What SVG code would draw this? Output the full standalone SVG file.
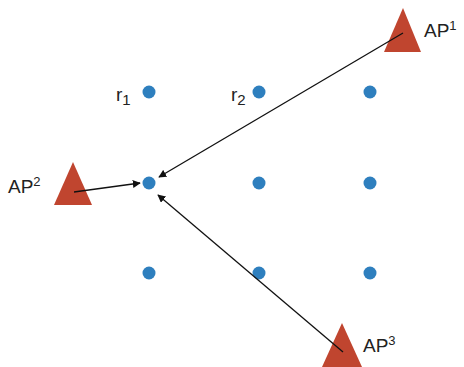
<svg xmlns="http://www.w3.org/2000/svg" width="464" height="367" viewBox="0 0 464 367">
<style>
.ap{fill:#c0452f}
.dot{fill:#2e7fbe}
.lbl{font-family:"Liberation Sans",Arial,sans-serif;font-size:19px;fill:#222}
.sup{font-size:13px}
.sub{font-size:15px}
.ln{stroke:#111;stroke-width:1.3;fill:none;marker-end:url(#ah)}
</style>
<defs>
<marker id="ah" viewBox="0 0 10 10" refX="9" refY="5" markerWidth="8" markerHeight="8" markerUnits="userSpaceOnUse" orient="auto">
<path d="M0,0 L10,5 L0,10 z" fill="#111"/>
</marker>
</defs>
<rect width="464" height="367" fill="#fff"/>
<g id="dots">
<g id="r1"><circle class="dot" cx="149" cy="92" r="6.5"/><text class="lbl" x="116" y="101">r<tspan class="sub" dy="4">1</tspan></text></g>
<g id="r2"><circle class="dot" cx="259" cy="92" r="6.5"/><text class="lbl" x="231" y="101">r<tspan class="sub" dy="4">2</tspan></text></g>
<g id="r3"><circle class="dot" cx="370" cy="92" r="6.5"/></g>
<g id="r4"><circle class="dot" cx="149" cy="183" r="6.5"/></g>
<g id="r5"><circle class="dot" cx="259" cy="183" r="6.5"/></g>
<g id="r6"><circle class="dot" cx="370" cy="183" r="6.5"/></g>
<g id="r7"><circle class="dot" cx="149" cy="273" r="6.5"/></g>
<g id="r8"><circle class="dot" cx="259" cy="273" r="6.5"/></g>
<g id="r9"><circle class="dot" cx="370" cy="273" r="6.5"/></g>
</g>
<g id="AP1"><polygon class="ap" points="403,8 384,52 421,52"/><text class="lbl" x="424" y="37">AP<tspan class="sup" dy="-7">1</tspan></text></g>
<g id="AP2"><polygon class="ap" points="73,162 54,205 92,205"/><text class="lbl" x="8" y="193">AP<tspan class="sup" dy="-7">2</tspan></text></g>
<g id="AP3"><polygon class="ap" points="342,323 322,367 362,367"/><text class="lbl" x="363" y="352">AP<tspan class="sup" dy="-7">3</tspan></text></g>
<g id="connectors">
<line class="ln" x1="403" y1="33" x2="159" y2="177"/>
<line class="ln" x1="74" y1="192" x2="140" y2="183"/>
<line class="ln" x1="343" y1="352" x2="158" y2="195"/>
</g>
</svg>
